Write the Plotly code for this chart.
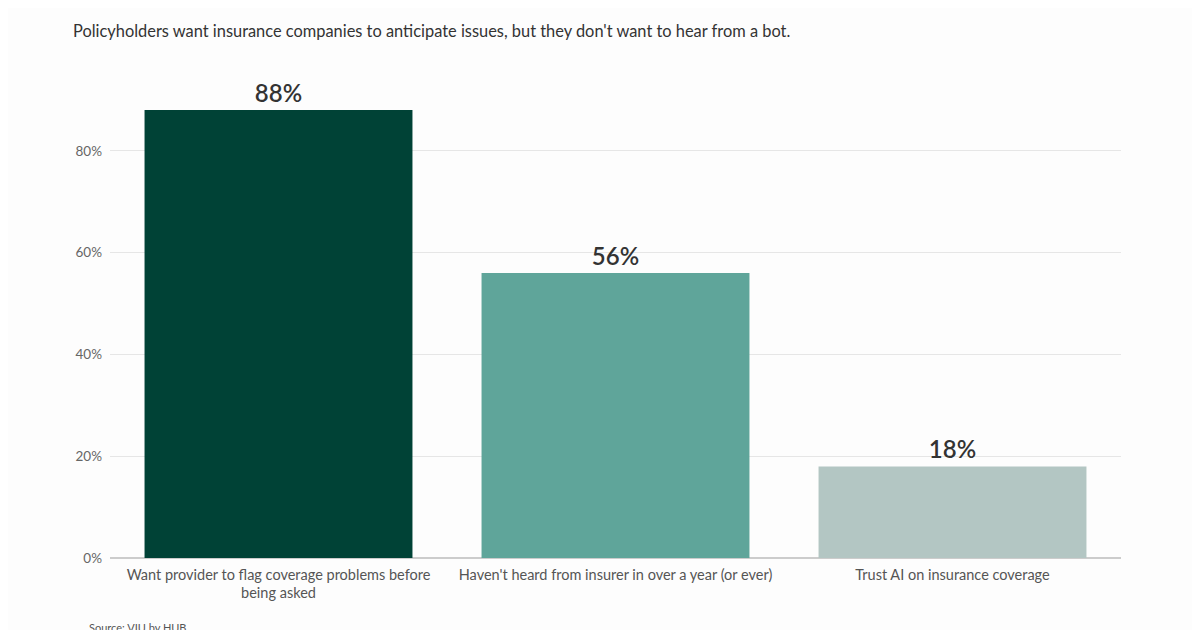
import plotly.graph_objects as go

# ── data ──────────────────────────────────────────────────────────────────────
categories = [
    "Want provider to flag coverage problems before<br>being asked",
    "Haven't heard from insurer in over a year (or ever)",
    "Trust AI on insurance coverage",
]
values = [88, 56, 18]
tick_vals = [0, 20, 40, 60, 80]
tick_text = ["0%", "20%", "40%", "60%", "80%"]

subtitle = "Policyholders want insurance companies to anticipate issues, but they don't want to hear from a bot."
source = "Source: VIU by HUB"

# ── colours ───────────────────────────────────────────────────────────────────
_C_BARS = ["#004236", "#5fa59a", "#b3c6c3"]
_C_TEXT = "#333333"
_C_AXIS = "#555555"
_C_GRID = "#e6e6e6"

# page body adds an 8px offset, so the figure is a touch smaller than the window
W, H = 1192, 622
M_L, M_R, M_T, M_B = 102, 79, 41, 72

fig = go.Figure()
fig.add_trace(go.Bar(
    x=categories, y=values,
    marker=dict(color=_C_BARS, line=dict(width=0)),
    text=[f"{v}%" for v in values],
    textposition="outside",
    textfont=dict(family="Lato", size=24, color=_C_TEXT, weight=600),
    cliponaxis=False,
    hoverinfo="skip",
))

fig.update_layout(
    width=W, height=H,
    margin=dict(l=M_L, r=M_R, t=M_T, b=M_B),
    paper_bgcolor="#fdfdfd",
    plot_bgcolor="#fdfdfd",
    font=dict(family="Lato", color=_C_AXIS),
    bargap=0.205,
    showlegend=False,
)

fig.update_yaxes(
    range=[0, 100],
    tickvals=tick_vals, ticktext=tick_text,
    tickfont=dict(size=13.5, color="#666666"),
    showgrid=True, gridcolor=_C_GRID, gridwidth=1,
    zeroline=True, zerolinecolor="#cccccc", zerolinewidth=1.5,
    ticks="", ticklabelstandoff=7,
)
fig.update_xaxes(
    tickfont=dict(size=14.5, color=_C_AXIS),
    showline=False, ticks="", ticklabelstandoff=6,
)

pw = W - M_L - M_R
ph = H - M_T - M_B

fig.add_annotation(
    text=subtitle, xref="paper", yref="paper",
    x=(63 - M_L) / pw, y=(H - M_B - 23) / ph,
    xanchor="left", yanchor="middle", showarrow=False,
    font=dict(family="Lato", size=16.4, color="#333333"),
)
fig.add_annotation(
    text=source, xref="paper", yref="paper",
    x=(79 - M_L) / pw, y=-(619 - (H - M_B)) / ph,
    xanchor="left", yanchor="middle", showarrow=False,
    font=dict(family="Lato", size=11, color="#555555"),
)

fig.write_html("out.html")
